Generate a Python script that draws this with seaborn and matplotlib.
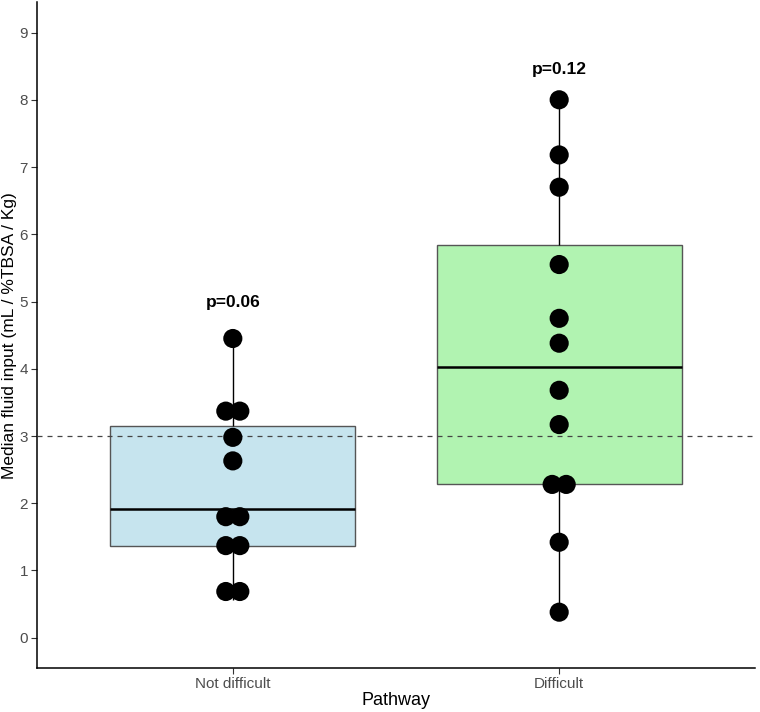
import numpy as np
import pandas as pd
import seaborn as sns
import matplotlib.pyplot as plt

# data
groups = ["Not difficult", "Difficult"]
not_difficult = [0.565, 0.81, 1.27, 1.47, 1.68, 1.92, 2.63, 2.98, 3.32, 3.42, 4.45]
difficult = [0.38, 1.42, 2.26, 2.30, 3.17, 3.68, 4.38, 4.75, 5.55, 6.70, 7.18, 8.00]
p_labels = ["p=0.06", "p=0.12"]
p_y = [4.99, 8.45]
box_colors = ["#C6E4EE", "#B1F3B1"]

df = pd.DataFrame({
    "Pathway": [groups[0]] * len(not_difficult) + [groups[1]] * len(difficult),
    "value": not_difficult + difficult,
})


def dot_stack(vals, binwidth=0.25, gap=0.043):
    # dotplot-style binning, dots centred side by side in each bin
    vals = sorted(vals)
    xs, ys = [], []
    i = 0
    while i < len(vals):
        j = i
        while j + 1 < len(vals) and vals[j + 1] < vals[i] + binwidth:
            j += 1
        n = j - i + 1
        centre = (vals[i] + vals[j]) / 2
        for k in range(n):
            xs.append((k - (n - 1) / 2) * gap)
            ys.append(centre)
        i = j + 1
    return np.array(xs), np.array(ys)


sns.set_style("white")
plt.rcParams["font.family"] = ["Liberation Sans", "DejaVu Sans"]

fig = plt.figure(figsize=(7.6, 7.12), dpi=100)
ax = fig.add_axes([0.0487, 0.0618, 0.9447, 0.935])

sns.boxplot(
    data=df, x="Pathway", y="value", order=groups, hue="Pathway",
    palette=box_colors, saturation=1, legend=False, width=0.75, whis=np.inf,
    showcaps=False, linewidth=1, ax=ax,
    boxprops=dict(edgecolor="#555555"),
    whiskerprops=dict(color="black"),
    medianprops=dict(color="black", linewidth=1.8),
)

ax.axhline(3, color="#444444", linestyle=(0, (4, 4)), linewidth=0.9, zorder=3)

for i, vals in enumerate([not_difficult, difficult]):
    dx, dy = dot_stack(vals)
    sns.scatterplot(x=dx + i, y=dy, color="black", s=190, edgecolor="none",
                    ax=ax, zorder=4)
    ax.text(i, p_y[i], p_labels[i], ha="center", va="center",
            fontsize=12.5, fontweight="bold", color="black")

ax.set_xlim(-0.6, 1.6)
ax.set_ylim(-0.45, 9.45)
ax.set_yticks(range(0, 10))
ax.set_xlabel("Pathway", fontsize=13, color="black", va="center")
ax.set_ylabel("Median fluid input (mL / %TBSA / Kg)", fontsize=12.5, color="black", va="center")
ax.yaxis.set_label_coords(-0.0385, 0.5)
ax.xaxis.set_label_coords(0.5, -0.049)
ax.tick_params(axis="both", labelsize=11, labelcolor="#4D4D4D", color="#333333",
               length=4, width=0.8, left=True, bottom=True, pad=2.5)

sns.despine(ax=ax)
for side in ["left", "bottom"]:
    ax.spines[side].set_color("black")
    ax.spines[side].set_linewidth(1.1)

fig.savefig("out.png", dpi=100)
